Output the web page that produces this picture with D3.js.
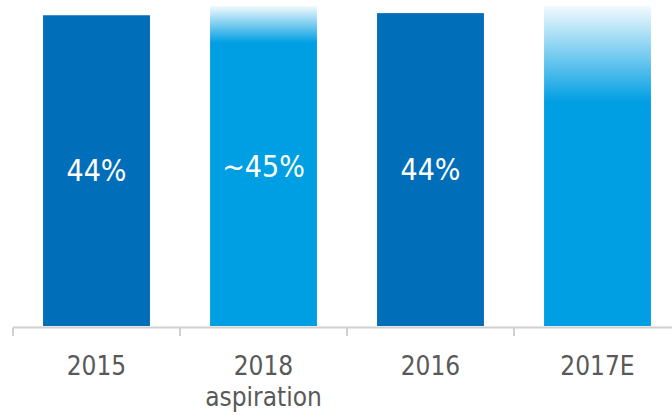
<!DOCTYPE html>
<html>
<head>
<meta charset="utf-8">
<script src="https://cdn.jsdelivr.net/npm/d3@7"></script>
<style>
html,body{margin:0;padding:0;background:#fff;}
svg{display:block;}
</style>
</head>
<body>
<svg id="chart" width="672" height="415"></svg>
<script>
const categories = ["2015", "2018|aspiration", "2016", "2017E"];
const values = [43.7, 45, 44.0, 45];
const valueLabels = ["44%", "~45%", "44%", ""];
const barKinds = ["solid-dark", "fade-short", "solid-dark", "fade-long"];

const W = 672, H = 415;
const svg = d3.select("#chart");
const x = d3.scaleBand().domain(categories).range([13, 681]).paddingInner(0.36).paddingOuter(0.18);
const y = d3.scaleLinear().domain([0, 45]).range([326, 6]);

const dark = "#006EB8", light = "#009FE3";
const defs = svg.append("defs");
function grad(id, solidAt) {
  const g = defs.append("linearGradient").attr("id", id).attr("x1", 0).attr("y1", 0).attr("x2", 0).attr("y2", 1);
  g.append("stop").attr("offset", 0).attr("stop-color", light).attr("stop-opacity", 0.05);
  g.append("stop").attr("offset", solidAt).attr("stop-color", light).attr("stop-opacity", 1);
  g.append("stop").attr("offset", 1).attr("stop-color", light).attr("stop-opacity", 1);
}
grad("fade-short", 0.115);
grad("fade-long", 0.30);

const fillFor = k => k === "solid-dark" ? dark : `url(#${k})`;

svg.append("g").selectAll("rect").data(categories).join("rect")
  .attr("x", d => x(d))
  .attr("width", x.bandwidth())
  .attr("y", (d, i) => y(values[i]))
  .attr("height", (d, i) => y(0) - y(values[i]))
  .attr("fill", (d, i) => fillFor(barKinds[i]));

svg.append("g").selectAll("text").data(categories).join("text")
  .attr("x", d => x(d) + x.bandwidth() / 2)
  .attr("y", (d, i) => y(values[i] / 2))
  .attr("text-anchor", "middle")
  .attr("dominant-baseline", "central")
  .attr("fill", "#fff")
  .style("font-family", "'Liberation Sans Narrow', 'DejaVu Sans Condensed', sans-serif")
  .style("font-size", "30px")
  .text((d, i) => valueLabels[i]);

// axis
const axisY = 327.5;
const ax = svg.append("g").attr("stroke", "#D0D0D0").attr("stroke-width", 2);
ax.append("line").attr("x1", 13).attr("x2", W).attr("y1", axisY).attr("y2", axisY);
ax.selectAll("line.tick").data(categories).join("line").attr("class", "tick")
  .attr("x1", d => x(d) - x.step() * x.paddingInner() / 2)
  .attr("x2", d => x(d) - x.step() * x.paddingInner() / 2)
  .attr("y1", axisY).attr("y2", 336);

const lbl = svg.append("g").selectAll("text").data(categories).join("text")
  .attr("x", d => x(d) + x.bandwidth() / 2)
  .attr("y", 375)
  .attr("text-anchor", "middle")
  .attr("fill", "#595959")
  .style("font-family", "'DejaVu Sans Condensed', sans-serif")
  .style("font-size", "26px");
lbl.each(function(d) {
  const parts = d.split("|");
  const t = d3.select(this);
  parts.forEach((p, j) => {
    t.append("tspan").attr("x", x(d) + x.bandwidth() / 2).attr("dy", j === 0 ? 0 : 31).text(p);
  });
});
</script>
</body>
</html>
